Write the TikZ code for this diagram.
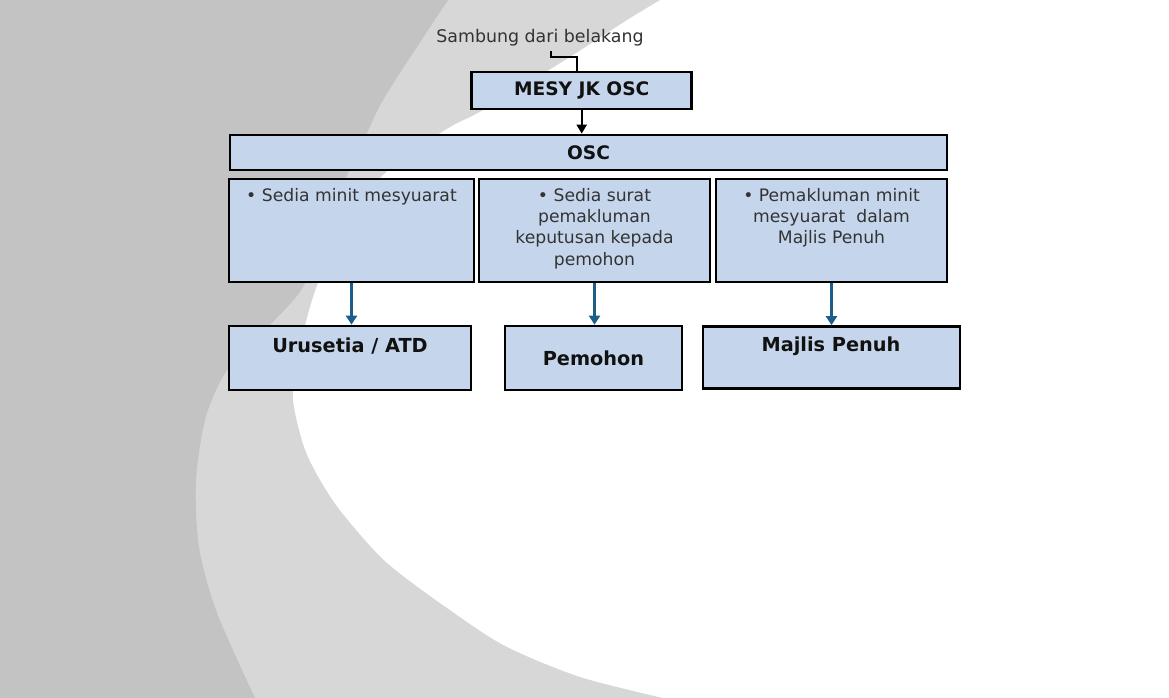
\documentclass[tikz,border=0pt]{standalone}
\usepackage{fontspec}
\setmainfont{DejaVu Sans}
\usetikzlibrary{arrows.meta}
\definecolor{bgdark}{HTML}{C3C3C3}
\definecolor{bglight}{HTML}{D7D7D7}
\definecolor{boxblue}{HTML}{C5D6EC}
\definecolor{arrblue}{HTML}{1C5E8A}
\definecolor{txtgrey}{HTML}{333333}
\definecolor{txtdark}{HTML}{111111}
\begin{document}
\begin{tikzpicture}[x=1pt,y=-1pt,
  box/.style={draw=black, line width=2.7pt, fill=boxblue, inner sep=0pt, rectangle},
  headtxt/.style={font=\bfseries\fontsize{18.6}{22}\selectfont, text=txtdark},
  bottomtxt/.style={font=\bfseries\fontsize{19.3}{23}\selectfont, text=txtdark, inner sep=0pt, anchor=base},
  bodytxt/.style={font=\fontsize{17.2}{21.3}\selectfont, text=txtgrey, align=center, inner sep=0pt, anchor=north},
  blackconn/.style={draw=black, line width=2.2pt},
  blackarrow/.style={draw=black, line width=2.2pt, -{Triangle[width=10pt,length=9pt]}},
  bluearrow/.style={draw=arrblue, line width=3pt, -{Triangle[width=11pt,length=9pt]}}
]
\useasboundingbox (0,0) rectangle (1169,698);
% background
\fill[white] (0,0) rectangle (1169,698);
\fill[bglight] (0,0) -- plot[smooth] coordinates {(660,0) (627,20) (565,60) (483,110) (450,127) (400,160) (360,200) (330,255) (312,300) (297,360) (293,400) (304,447) (320,480) (342,513) (387,563) (454,613) (507,647) (580,677) (663,698)} -- (0,698) -- cycle;
\fill[bgdark] (0,0) -- plot[smooth] coordinates {(448,0) (415,50) (383,100) (367,133) (345,180) (325,230) (303,287) (270,325) (240,355) (221,380) (205,420) (196,480) (199,547) (217,613) (255,698)} -- (0,698) -- cycle;

% top text and connector
\node[font=\fontsize{17.4}{20}\selectfont, text=txtgrey, inner sep=0pt, anchor=base] (sambung) at (540,42.7) {Sambung dari belakang};
\coordinate (c1) at (551,51.5);

% boxes
\node[box, minimum width=220pt, minimum height=37pt, headtxt] (mesy) at (581.7,90.5) {MESY JK OSC};
\node[box, minimum width=717pt, minimum height=35pt, headtxt] (osc) at (588.5,152.5) {OSC};
\node[box, minimum width=245pt, minimum height=103pt] (m1) at (351.5,230.5) {};
\node[box, minimum width=231pt, minimum height=103pt] (m2) at (594.5,230.5) {};
\node[box, minimum width=231pt, minimum height=103pt] (m3) at (831.5,230.5) {};
\node[box, minimum width=242pt, minimum height=64pt] (b1) at (350,358) {};
\node[box, minimum width=177pt, minimum height=64pt, font=\bfseries\fontsize{19.3}{23}\selectfont, text=txtdark] (b2) at (593.5,358) {Pemohon};
\node[box, minimum width=257pt, minimum height=62pt] (b3) at (831.5,357.5) {};

% box texts
\node[bodytxt] (m1t) at (351.5,188) {• Sedia minit mesyuarat};
\node[bodytxt] (m2t) at (594.5,188) {• Sedia surat\\pemakluman\\keputusan kepada\\pemohon};
\node[bodytxt] (m3t) at (831.5,188) {• Pemakluman minit\\mesyuarat\ \ dalam\\Majlis Penuh};
\node[bottomtxt] (b1t) at (350,352.7) {Urusetia / ATD};
\node[bottomtxt] (b3t) at (831,351.7) {Majlis Penuh};

% connectors
\draw[blackconn] (c1) -- ++(0,5.8) -| ([xshift=-4.7pt]mesy.north);
\draw[blackarrow] (mesy.south) -- (mesy.south |- osc.north);
\draw[bluearrow] (m1.south) -- (m1.south |- b1.north);
\draw[bluearrow] (m2.south) -- (m2.south |- b2.north);
\draw[bluearrow] (m3.south) -- (m3.south |- b3.north);
\end{tikzpicture}
\end{document}
